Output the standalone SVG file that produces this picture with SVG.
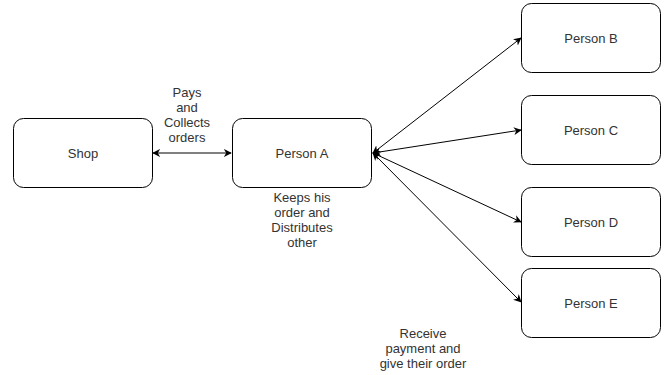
<svg xmlns="http://www.w3.org/2000/svg" width="665" height="375" viewBox="0 0 665 375">
<defs>
<style>
.n{fill:#fff;stroke:#000;stroke-width:1}
.t{font-family:"Liberation Sans",Arial,sans-serif;font-size:13px;fill:#333;text-anchor:middle}
.c{stroke:#000;stroke-width:1;fill:none;marker-end:url(#a);marker-start:url(#a)}
</style>
<marker id="a" viewBox="0 0 10 10" refX="9" refY="5" markerWidth="8" markerHeight="8" markerUnits="userSpaceOnUse" orient="auto-start-reverse">
<path d="M0,0 L10,5 L0,10 L3,5 Z" fill="#000"/>
</marker>
</defs>
<rect width="665" height="375" fill="#fff"/>
<g id="connectors">
<line class="c" x1="153" y1="153" x2="231" y2="153"/>
<line class="c" x1="373" y1="153" x2="521" y2="38"/>
<line class="c" x1="373" y1="153" x2="521" y2="130"/>
<line class="c" x1="373" y1="153" x2="521" y2="222"/>
<line class="c" x1="373" y1="153" x2="521" y2="302"/>
</g>
<g id="shop"><rect class="n" x="13.5" y="118.5" width="139" height="69" rx="10"/><text class="t" x="83" y="158">Shop</text></g>
<g id="personA"><rect class="n" x="232.5" y="118.5" width="139" height="69" rx="10"/><text class="t" x="302" y="158">Person A</text></g>
<g id="personB"><rect class="n" x="521.5" y="3.5" width="139" height="69" rx="10"/><text class="t" x="591" y="43">Person B</text></g>
<g id="personC"><rect class="n" x="521.5" y="95.5" width="139" height="69" rx="10"/><text class="t" x="591" y="135">Person C</text></g>
<g id="personD"><rect class="n" x="521.5" y="187.5" width="139" height="69" rx="10"/><text class="t" x="591" y="227">Person D</text></g>
<g id="personE"><rect class="n" x="521.5" y="268.5" width="139" height="69" rx="10"/><text class="t" x="591" y="308">Person E</text></g>
<g id="labels">
<text class="t"><tspan x="187" y="97">Pays</tspan><tspan x="187" y="112">and</tspan><tspan x="187" y="127">Collects</tspan><tspan x="187" y="142">orders</tspan></text>
<text class="t"><tspan x="302" y="202">Keeps his</tspan><tspan x="302" y="217">order and</tspan><tspan x="302" y="232">Distributes</tspan><tspan x="302" y="247">other</tspan></text>
<text class="t"><tspan x="423" y="338">Receive</tspan><tspan x="423" y="353">payment and</tspan><tspan x="423" y="368">give their order</tspan></text>
</g>
</svg>
